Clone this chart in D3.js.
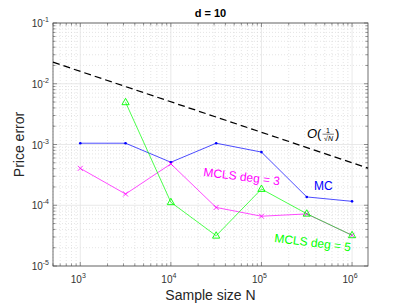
<!DOCTYPE html>
<html>
<head>
<meta charset="utf-8">
<script src="https://cdn.jsdelivr.net/npm/d3@7"></script>
<style>
  body { margin: 0; background: #fff; }
  text { font-family: "Liberation Sans", Arial, sans-serif; }
</style>
</head>
<body>
<div id="chart"></div>
<script>
// sample sizes and errors
const sampleN = [1000, 3162, 10000, 31623, 100000, 316228, 1000000]
const mcErr = [1.05e-3, 1.05e-3, 5.1e-4, 1.05e-3, 7.5e-4, 1.37e-4, 1.16e-4]
const mcls3Err = [4.05e-4, 1.53e-4, 4.8e-4, 9.2e-5, 6.6e-5, 7.2e-5, 3.2e-5]
const mcls5N = [3162, 10000, 31623, 100000, 316228, 1000000]
const mcls5Err = [4.95e-3, 1.12e-4, 3.15e-5, 1.85e-4, 7.25e-5, 3.2e-5]
const refN = [500, 1500000]
const refErr = [2.26e-2, 4.1e-4]
const xTicks = [1e3, 1e4, 1e5, 1e6]
const yTicks = [1e-5, 1e-4, 1e-3, 1e-2, 1e-1]

;(function () {
    const W = 407, H = 305
    const margin = { top: 23, right: 39, bottom: 39, left: 53 }
    const width = W - margin.left - margin.right,
        height = H - margin.top - margin.bottom

    const root = d3.select("#chart").append("svg")
        .attr("width", W).attr("height", H)
    const svg = root.append("g")
        .attr("transform", "translate(" + margin.left + "," + margin.top + ")")

    const x = d3.scaleLog().domain([500, 1.5e6]).range([0, width])
    const y = d3.scaleLog().domain([1e-5, 1e-1]).range([height, 0])

    // minor values 2..9 per decade
    const minorX = [], minorY = []
    for (let e = 2; e <= 6; e++) for (let m = 2; m <= 9; m++) {
        const v = m * Math.pow(10, e)
        if (v >= 500 && v <= 1.5e6) minorX.push(v)
    }
    for (let e = -5; e <= -2; e++) for (let m = 2; m <= 9; m++) minorY.push(m * Math.pow(10, e))

    // grid
    svg.selectAll(".gx-minor").data(minorX).enter().append("line")
        .attr("x1", d => x(d)).attr("x2", d => x(d)).attr("y1", 0).attr("y2", height)
        .attr("stroke", "#d4d4d4").attr("stroke-width", 0.6).attr("stroke-dasharray", "1,2")
    svg.selectAll(".gy-minor").data(minorY).enter().append("line")
        .attr("y1", d => y(d)).attr("y2", d => y(d)).attr("x1", 0).attr("x2", width)
        .attr("stroke", "#d4d4d4").attr("stroke-width", 0.6).attr("stroke-dasharray", "1,2")
    svg.selectAll(".gx").data(xTicks).enter().append("line")
        .attr("x1", d => x(d)).attr("x2", d => x(d)).attr("y1", 0).attr("y2", height)
        .attr("stroke", "#e3e3e3").attr("stroke-width", 0.8)
    svg.selectAll(".gy").data(yTicks).enter().append("line")
        .attr("y1", d => y(d)).attr("y2", d => y(d)).attr("x1", 0).attr("x2", width)
        .attr("stroke", "#e3e3e3").attr("stroke-width", 0.8)

    // ticks on all four sides, pointing inward
    const tickCol = "#4d4d4d"
    const tk = svg.append("g").attr("stroke", tickCol).attr("stroke-width", 0.6)
    xTicks.forEach(d => {
        tk.append("line").attr("x1", x(d)).attr("x2", x(d)).attr("y1", height).attr("y2", height - 4)
        tk.append("line").attr("x1", x(d)).attr("x2", x(d)).attr("y1", 0).attr("y2", 4)
    })
    minorX.forEach(d => {
        tk.append("line").attr("x1", x(d)).attr("x2", x(d)).attr("y1", height).attr("y2", height - 2.5)
        tk.append("line").attr("x1", x(d)).attr("x2", x(d)).attr("y1", 0).attr("y2", 2.5)
    })
    yTicks.forEach(d => {
        tk.append("line").attr("y1", y(d)).attr("y2", y(d)).attr("x1", 0).attr("x2", 4)
        tk.append("line").attr("y1", y(d)).attr("y2", y(d)).attr("x1", width).attr("x2", width - 4)
    })
    minorY.forEach(d => {
        tk.append("line").attr("y1", y(d)).attr("y2", y(d)).attr("x1", 0).attr("x2", 2.5)
        tk.append("line").attr("y1", y(d)).attr("y2", y(d)).attr("x1", width).attr("x2", width - 2.5)
    })

    svg.append("rect").attr("width", width).attr("height", height)
        .attr("fill", "none").attr("stroke", tickCol).attr("stroke-width", 0.8)

    // tick labels 10^k
    const expOf = d => Math.round(Math.log10(d))
    const xl = svg.selectAll(".xl").data(xTicks).enter().append("text")
        .attr("x", d => x(d) - 2).attr("y", height + 17)
        .attr("text-anchor", "middle").attr("font-size", 10).attr("fill", "#333")
    xl.append("tspan").text("10")
    xl.append("tspan").attr("dy", -5).attr("font-size", 7).text(d => expOf(d))

    const yl = svg.selectAll(".yl").data(yTicks).enter().append("text")
        .attr("x", -4).attr("y", d => y(d) + 4)
        .attr("text-anchor", "end").attr("font-size", 10).attr("fill", "#333")
    yl.append("tspan").text("10")
    yl.append("tspan").attr("dy", -5).attr("font-size", 7).text(d => expOf(d))

    // axis titles
    root.append("text").attr("x", margin.left + width / 2).attr("y", 300)
        .attr("text-anchor", "middle").attr("font-size", 14).attr("fill", "#262626")
        .text("Sample size N")
    root.append("text")
        .attr("transform", "translate(24," + (margin.top + height / 2) + ") rotate(-90)")
        .attr("text-anchor", "middle").attr("font-size", 14).attr("fill", "#262626")
        .text("Price error")
    root.append("text").attr("x", margin.left + width / 2).attr("y", 17)
        .attr("text-anchor", "middle").attr("font-size", 11).attr("font-weight", "bold")
        .attr("fill", "#000").text("d = 10")

    const line = d3.line().x(d => x(d[0])).y(d => y(d[1]))
    const plot = svg.append("g")

    // reference slope
    plot.append("path").datum(d3.zip(refN, refErr))
        .attr("d", line).attr("fill", "none").attr("stroke", "#000")
        .attr("stroke-width", 1.3).attr("stroke-dasharray", "7,4")

    // MC
    const mc = d3.zip(sampleN, mcErr)
    plot.append("path").datum(mc).attr("d", line)
        .attr("fill", "none").attr("stroke", "#0000ff").attr("stroke-width", 0.7)
    plot.selectAll(".mcpt").data(mc).enter().append("circle")
        .attr("cx", d => x(d[0])).attr("cy", d => y(d[1])).attr("r", 1.3).attr("fill", "#0000ff")

    // MCLS deg 3
    const m3 = d3.zip(sampleN, mcls3Err)
    plot.append("path").datum(m3).attr("d", line)
        .attr("fill", "none").attr("stroke", "#ff00ff").attr("stroke-width", 0.7)
    plot.selectAll(".m3pt").data(m3).enter().append("path")
        .attr("transform", d => "translate(" + x(d[0]) + "," + y(d[1]) + ")")
        .attr("d", "M-2.5,-2.5L2.5,2.5M-2.5,2.5L2.5,-2.5")
        .attr("stroke", "#ff00ff").attr("stroke-width", 0.8)

    // MCLS deg 5
    const m5 = d3.zip(mcls5N, mcls5Err)
    plot.append("path").datum(m5).attr("d", line)
        .attr("fill", "none").attr("stroke", "#00ff00").attr("stroke-width", 0.7)
    plot.selectAll(".m5pt").data(m5).enter().append("path")
        .attr("transform", d => "translate(" + x(d[0]) + "," + y(d[1]) + ")")
        .attr("d", "M0,-4L3.6,2.4L-3.6,2.4Z")
        .attr("fill", "none").attr("stroke", "#00ff00").attr("stroke-width", 0.9)

    // in-plot labels
    root.append("text").attr("x", 314).attr("y", 190).attr("font-size", 12)
        .attr("fill", "#0000ff").text("MC")
    root.append("text").attr("transform", "translate(203,176) rotate(7)")
        .attr("font-size", 12).attr("fill", "#ff00ff").text("MCLS deg = 3")
    root.append("text").attr("transform", "translate(274,242) rotate(7)")
        .attr("font-size", 12).attr("fill", "#00ff00").text("MCLS deg = 5")

    // O(1/sqrt(N)) label
    const serif = "DejaVu Serif, serif"
    const o = root.append("g").attr("transform", "translate(307,138)").attr("fill", "#000")
    o.append("text").attr("font-family", serif).attr("font-style", "italic")
        .attr("font-size", 13).text("O")
    o.append("text").attr("x", 10).attr("font-family", serif).attr("font-size", 13).text("(")
    o.append("text").attr("x", 21).attr("y", -5).attr("text-anchor", "middle")
        .attr("font-family", serif).attr("font-size", 7).text("1")
    o.append("line").attr("x1", 15.5).attr("x2", 27).attr("y1", -3.8).attr("y2", -3.8)
        .attr("stroke", "#000").attr("stroke-width", 0.5)
    o.append("text").attr("x", 21.5).attr("y", 3).attr("text-anchor", "middle")
        .attr("font-family", serif).attr("font-style", "italic").attr("font-size", 7).text("\u221AN")
    o.append("text").attr("x", 28).attr("font-family", serif).attr("font-size", 13).text(")")
})()
</script>
</body>
</html>
